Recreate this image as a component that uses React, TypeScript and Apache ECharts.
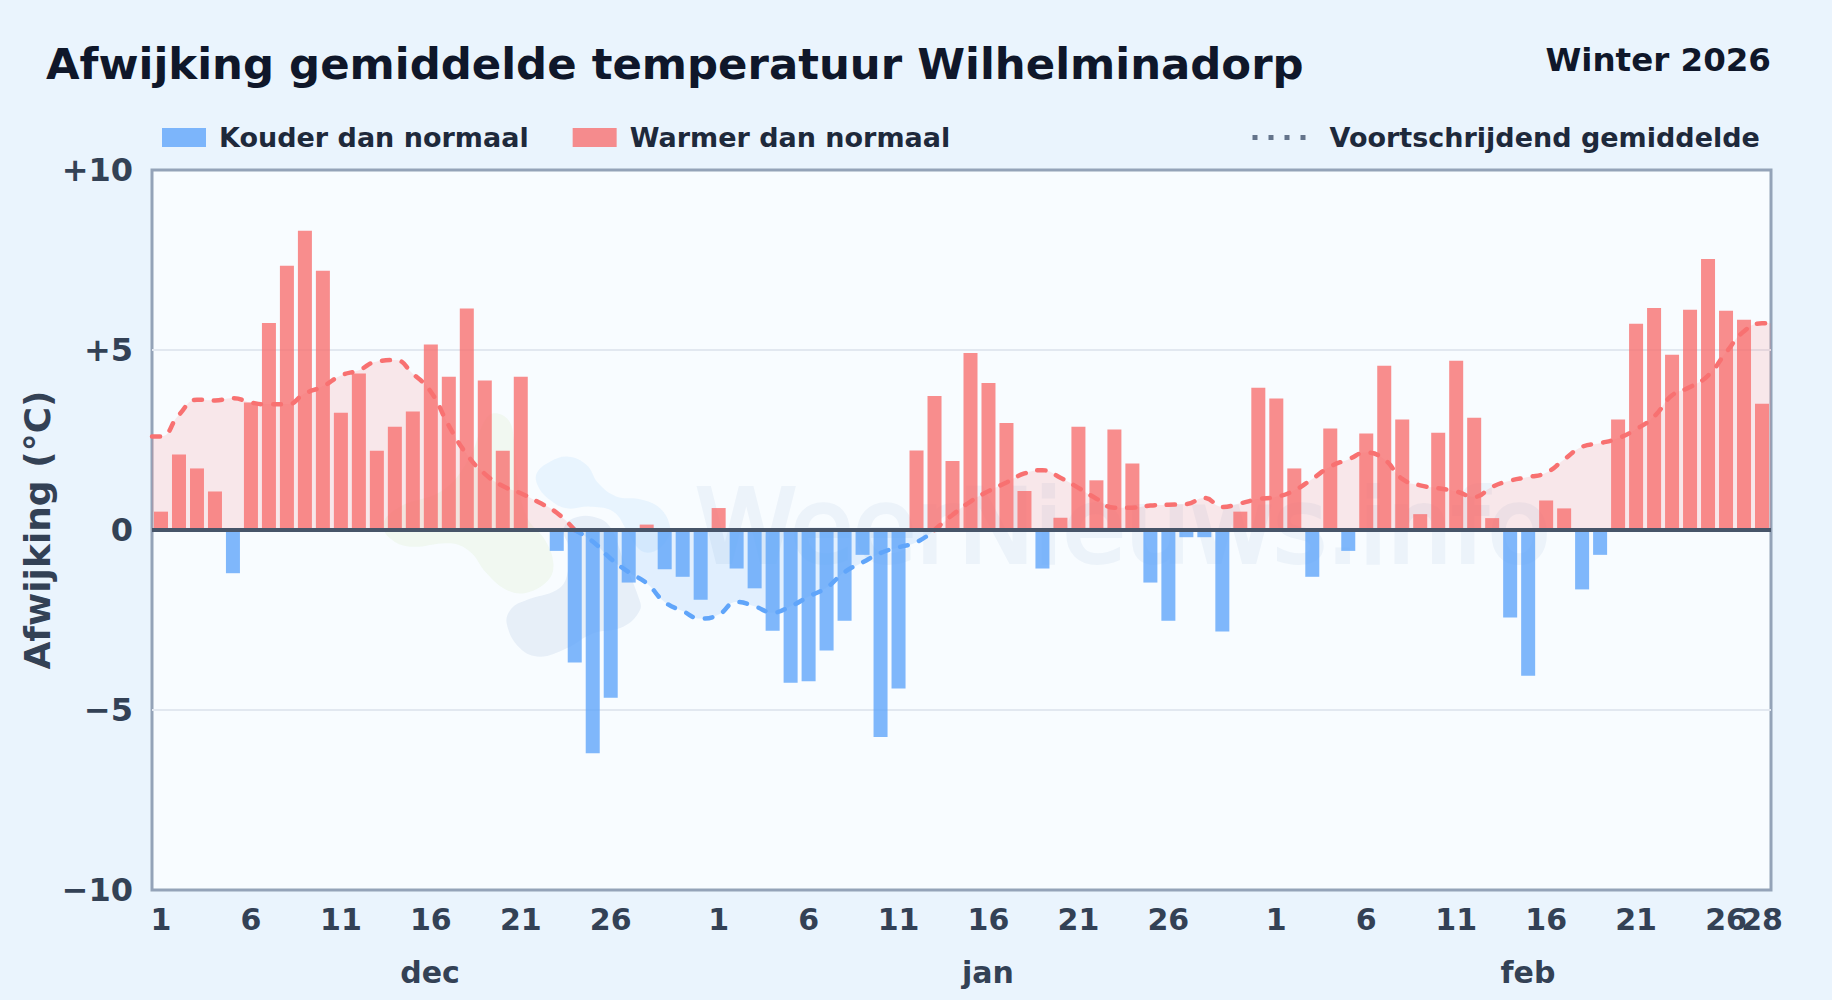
import React, { useEffect, useRef } from "react";
import * as echarts from "echarts";

const title = "Afwijking gemiddelde temperatuur Wilhelminadorp";
const season = "Winter 2026";
const coldName = "Kouder dan normaal";
const warmName = "Warmer dan normaal";
const avgName = "Voortschrijdend gemiddelde";
const months = ["dec", "jan", "feb"];
const monthLengths = [31, 31, 28];
const yTicks: Record<string, string> = { "10": "+10", "5": "+5", "0": "0", "-5": "−5", "-10": "−10" };

const decDeviation = [0.51, 2.1, 1.71, 1.07, -1.2, 3.54, 5.75, 7.34, 8.31, 7.2, 3.26, 4.35, 2.2, 2.87, 3.29, 5.15, 4.26, 6.15, 4.15, 2.2, 4.26, -0.05, -0.58, -3.68, -6.2, -4.66, -1.46, 0.15, -1.09, -1.3, -1.94];
const janDeviation = [0.61, -1.07, -1.62, -2.8, -4.24, -4.2, -3.35, -2.52, -0.69, -5.75, -4.4, 2.21, 3.72, 1.92, 4.92, 4.08, 2.97, 1.08, -1.07, 0.34, 2.87, 1.38, 2.79, 1.85, -1.46, -2.52, -0.2, -0.2, -2.82, 0.51, 3.95];
const febDeviation = [3.65, 1.71, -1.3, 2.82, -0.58, 2.68, 4.56, 3.07, 0.44, 2.7, 4.7, 3.12, 0.33, -2.43, -4.05, 0.82, 0.6, -1.65, -0.69, 3.07, 5.73, 6.17, 4.87, 6.12, 7.53, 6.09, 5.84, 3.51];

const decAverage = [2.6, 3.2, 3.62, 3.6, 3.66, 3.54, 3.49, 3.49, 3.79, 3.99, 4.29, 4.44, 4.68, 4.72, 4.34, 3.84, 2.9, 2.1, 1.56, 1.22, 1.02, 0.77, 0.48, 0, -0.32, -0.8, -1.17, -1.48, -2.0, -2.25, -2.46];
const janAverage = [-2.35, -2.0, -2.12, -2.29, -2.12, -1.85, -1.6, -1.17, -0.9, -0.64, -0.48, -0.34, 0, 0.42, 0.79, 1.08, 1.32, 1.57, 1.66, 1.45, 1.17, 0.87, 0.62, 0.62, 0.68, 0.7, 0.72, 0.89, 0.64, 0.74, 0.86];
const febAverage = [0.92, 1.1, 1.42, 1.76, 1.96, 2.15, 1.96, 1.42, 1.24, 1.16, 1.07, 0.92, 1.2, 1.37, 1.47, 1.59, 1.96, 2.31, 2.41, 2.55, 2.8, 3.15, 3.74, 3.97, 4.29, 4.93, 5.52, 5.74];

const deviation = [...decDeviation, ...janDeviation, ...febDeviation];
const average = [...decAverage, ...janAverage, ...febAverage];
const days = monthLengths.flatMap((n) => Array.from({ length: n }, (_, i) => String(i + 1)));

const INK = "#334155";
const RED = "#f87171";
const BLUE = "#60a5fa";
const GRID = { left: 152, top: 170, width: 1619, height: 720 };

const zoomPts = (pts: number[][]) => pts.map(([x, y]) => [360 + x / 3, 390 + y / 3]);
const logoBlue = zoomPts([[530, 250], [570, 215], [625, 200], [680, 225], [715, 280], [770, 320], [840, 328], [900, 355], [930, 410], [920, 450], [880, 485], [840, 480], [800, 420], [760, 365], [690, 350], [620, 355], [570, 330], [535, 290]]);
const logoDark = zoomPts([[440, 700], [455, 655], [500, 630], [590, 600], [620, 560], [625, 470], [610, 420], [640, 385], [700, 380], [750, 410], [790, 510], [835, 620], [840, 660], [790, 710], [700, 730], [620, 775], [540, 800], [480, 775]]);
const logoGreen = zoomPts([[400, 70], [445, 90], [462, 150], [470, 250], [500, 380], [555, 450], [580, 520], [565, 570], [500, 608], [440, 600], [380, 550], [330, 485], [270, 460], [150, 470], [90, 445], [70, 400], [120, 350], [250, 300], [330, 200], [370, 100]]);

const lineSeries = (keep: (v: number) => boolean, color: string) => {
  const pts = average.map((v, i) => [i + 0.5, keep(v) ? v : null]);
  if (keep(average[0])) pts.unshift([0, average[0]]);
  if (keep(average[average.length - 1])) pts.push([average.length, average[average.length - 1]]);
  return {
    name: avgName,
    type: "line",
    xAxisIndex: 1,
    yAxisIndex: 0,
    data: pts,
    symbol: "none",
    smooth: 0.5,
    connectNulls: false,
    z: 4,
    lineStyle: { color, width: 4.5, type: [8, 12], cap: "round", opacity: 1 },
    itemStyle: { color: "#64748b" },
    areaStyle: { color, opacity: 0.15, origin: 0 },
  };
};

export default function App() {
  const ref = useRef<HTMLDivElement>(null);
  useEffect(() => {
    document.body.style.margin = "0";
    document.body.style.background = "#eaf4fd";
    const chart = echarts.init(ref.current!, null, { renderer: "svg" });
    const font = { fontFamily: "DejaVu Sans", fontWeight: "bold" as const };
    const monthCenters = [430, 988, 1528];
    const dayLabel = {
      hideOverlap: false,
      color: INK,
      fontSize: 30,
      fontFamily: "DejaVu Sans",
      fontWeight: "bold",
      margin: 14,
    };
    const option = {
      animation: false,
      backgroundColor: "#eaf4fd",
      textStyle: font,
      grid: { ...GRID, show: true, backgroundColor: "#f8fcff", borderColor: "#94a3b8", borderWidth: 3 },
      legend: [
        {
          left: 162, top: 124, padding: 0, itemWidth: 44, itemHeight: 19, itemGap: 44, selectedMode: false, icon: "rect",
          data: [coldName, warmName],
          textStyle: { ...font, fontSize: 27, color: "#1e293b", padding: [0, 0, 0, 8] },
        },
        {
          left: 1250, top: 124, padding: 0, itemWidth: 53, itemHeight: 19, selectedMode: false,
          data: [{ name: avgName, lineStyle: { color: "#64748b", width: 5, type: [5, 11], opacity: 1, cap: "butt" }, itemStyle: { opacity: 0 } }],
          textStyle: { ...font, fontSize: 27, color: "#1e293b", padding: [0, 0, 0, 19] },
        },
      ],
      xAxis: [
        {
          type: "category",
          position: "bottom",
          data: days,
          axisLine: { show: false },
          axisTick: { show: false },
          splitLine: { show: false },
          axisLabel: {
            ...dayLabel,
            interval: (_i: number, v: string) => {
              const d = Number(v);
              return (d - 1) % 5 === 0 && d <= 26;
            },
          },
        },
        { type: "value", position: "bottom", min: 0, max: days.length, show: false, splitLine: { show: false } },
        {
          type: "category",
          position: "bottom",
          data: days,
          axisLine: { show: false },
          axisTick: { show: false },
          splitLine: { show: false },
          axisLabel: {
            ...dayLabel,
            interval: (i: number) => i === days.length - 1,
          },
        },
      ],
      yAxis: {
        type: "value",
        min: -10,
        max: 10,
        interval: 5,
        name: "Afwijking (°C)",
        nameLocation: "middle",
        nameGap: 97,
        nameMoveOverlap: false,
        nameRotate: 90,
        nameTextStyle: { fontSize: 36, color: INK, fontFamily: "DejaVu Sans", fontWeight: "bold" },
        axisLine: { show: false },
        axisTick: { show: false },
        splitLine: { show: true, showMinLine: false, showMaxLine: false, lineStyle: { color: "#e2e8f0", width: 2 } },
        axisLabel: {
          color: INK,
          fontSize: 32,
          fontFamily: "DejaVu Sans",
          fontWeight: "bold",
          margin: 19,
          formatter: (v: number) => yTicks[String(v)] ?? String(v),
        },
      },
      series: [
        {
          name: coldName,
          type: "bar",
          stack: "deviation",
          barWidth: 14,
          z: 3,
          itemStyle: { color: "rgba(96,165,250,0.8)" },
          data: deviation.map((v) => (v < 0 ? v : null)),
        },
        {
          name: warmName,
          type: "bar",
          stack: "deviation",
          barWidth: 14,
          z: 3,
          itemStyle: { color: "rgba(248,113,113,0.8)" },
          data: deviation.map((v) => (v >= 0 ? v : null)),
          markLine: {
            silent: true,
            symbol: "none",
            z: 6,
            label: { show: false },
            lineStyle: { color: "#475569", width: 4, type: "solid" },
            data: [{ yAxis: 0 }],
          },
        },
        lineSeries((v) => v >= 0, RED),
        lineSeries((v) => v <= 0, BLUE),
      ],
      graphic: [
        {
          type: "text", z: 1, silent: true, x: 1123, y: 526,
          style: { text: "WeerNieuws.info", align: "center", verticalAlign: "middle", fill: "#ecf3fa", stroke: "#ecf3fa", lineWidth: 4, font: "102px 'DejaVu Sans'" },
        },
        { type: "polygon", z: 1, silent: true, shape: { points: logoGreen, smooth: 0.4 }, style: { fill: "rgba(190,225,150,0.13)" } },
        { type: "polygon", z: 1, silent: true, shape: { points: logoBlue, smooth: 0.4 }, style: { fill: "rgba(96,175,250,0.1)" } },
        { type: "polygon", z: 1, silent: true, shape: { points: logoDark, smooth: 0.4 }, style: { fill: "rgba(40,90,170,0.08)" } },
        {
          type: "text", x: 46, y: 64,
          style: { text: title, align: "left", verticalAlign: "middle", fill: "#0f172a", font: "bold 43.4px 'DejaVu Sans'" },
        },
        {
          type: "text", x: 1771, y: 60,
          style: { text: season, align: "right", verticalAlign: "middle", fill: "#0f172a", font: "bold 32.5px 'DejaVu Sans'" },
        },
        ...months.map((m, i) => ({
          type: "text", x: monthCenters[i], y: 972,
          style: { text: m, align: "center", verticalAlign: "middle", fill: INK, font: "bold 30px 'DejaVu Sans'" },
        })),
      ],
    };
    chart.setOption(option as any);
    return () => chart.dispose();
  }, []);
  return <div ref={ref} style={{ width: 1832, height: 1000 }} />;
}
